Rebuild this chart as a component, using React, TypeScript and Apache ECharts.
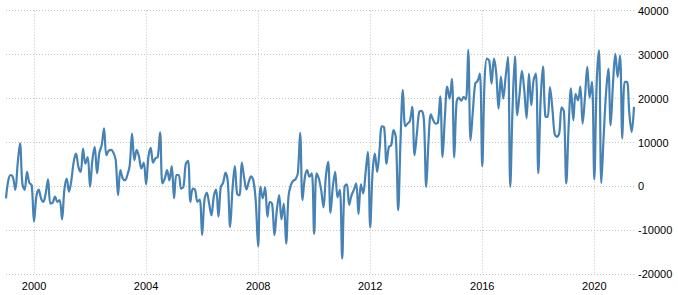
import React, { useEffect, useRef } from "react";
import * as echarts from "echarts";

const y1999 = [-2700, 1400, 2600, 2000, -800, 5200, 9800, 700, -800, 3300, 800, 300];
const y2000 = [-8000, -2300, -700, -2700, -3500, -1600, 1600, -3900, -3700, -2300, -3500, -3100];
const y2001 = [-7500, -800, 1800, -1200, 1400, 5600, 7500, 4500, 3300, 8600, 5200, 6700];
const y2002 = [-100, 6000, 9000, 3000, 7700, 9400, 13200, 7100, 8100, 8300, 7700, 6000];
const y2003 = [-2000, 3700, 1800, 1400, 2600, 4800, 12000, 6000, 8300, 6700, 4100, 5400];
const y2004 = [500, 6700, 8800, 5400, 6400, 6700, 12300, 700, 1800, 3700, 1400, 4600];
const y2005 = [-2700, 2600, 2600, -500, -100, 5100, 5800, -3500, -500, -800, -3500, -3000];
const y2006 = [-11100, -3100, -1400, -3900, -6600, -2300, -700, -6900, -100, 800, 3100, 1100];
const y2007 = [-9200, -800, 4600, -1700, -2000, 5400, 2000, -700, 1100, 2300, 1300, -3500];
const y2008 = [-13700, -100, -2700, -200, -6900, -3500, -4000, -11100, -5400, -2000, -7500, -3900];
const y2009 = [-13000, -2300, 300, 1300, 1600, 3000, 12200, -3100, 2000, 3700, 2200, 3000];
const y2010 = [-10800, 3000, 1800, -800, -4800, 2200, 5600, -6000, -100, 3300, -2500, -700];
const y2011 = [-16400, -100, 500, -4200, -2000, -800, 700, -6300, 500, -1600, 3000, 7900];
const y2012 = [-9300, 3000, 7500, 3300, 8300, 13700, 13400, 5200, 9000, 9400, 12800, 11100];
const y2013 = [-5400, 10500, 22000, 13700, 14300, 14900, 18100, 7100, 12000, 17000, 17200, 15100];
const y2014 = [-100, 10500, 16400, 15100, 14300, 14500, 20500, 6700, 15800, 22700, 20000, 24500];
const y2015 = [6600, 19200, 20200, 19500, 20400, 19800, 31100, 10500, 17300, 23400, 24000, 25700];
const y2016 = [4600, 24200, 29100, 28600, 23400, 29100, 25700, 17700, 25000, 20000, 24900, 29500];
const y2017 = [-100, 18100, 29600, 16200, 21100, 26300, 21900, 15500, 25700, 18500, 24200, 25700];
const y2018 = [3000, 19600, 27300, 16000, 15800, 22600, 18000, 12000, 11300, 12200, 18000, 17000];
const y2019 = [700, 13600, 22300, 15100, 21100, 19600, 22700, 14300, 20400, 27200, 20200, 23800];
const y2020 = [1600, 23400, 31000, 800, 11300, 21100, 26800, 13900, 23400, 30200, 24900, 29800];
const y2021 = [10900, 23800, 23800, 16600, 12400, 18100];

const values = [
  ...y1999, ...y2000, ...y2001, ...y2002, ...y2003, ...y2004, ...y2005, ...y2006,
  ...y2007, ...y2008, ...y2009, ...y2010, ...y2011, ...y2012, ...y2013, ...y2014,
  ...y2015, ...y2016, ...y2017, ...y2018, ...y2019, ...y2020, ...y2021,
];

const startYear = 1999;
const months: string[] = values.map((_, i) => {
  const y = startYear + Math.floor(i / 12);
  const m = (i % 12) + 1;
  return `${y}-${m < 10 ? "0" + m : m}`;
});

const yTicks = { min: -20000, max: 40000, interval: 10000 };

const isTickMonth = (_idx: number, val: string) => {
  const y = parseInt(val.slice(0, 4), 10);
  return val.slice(5) === "01" && y % 4 === 0;
};

export default function App() {
  const ref = useRef<HTMLDivElement>(null);
  useEffect(() => {
    if (!ref.current) return;
    const chart = echarts.init(ref.current, undefined, { renderer: "svg" });
    const grid = { color: "#c4c4c4", type: [1, 2] as number[], width: 1 };
    const font = "Liberation Sans, Arial, sans-serif";
    chart.setOption({
      animation: false,
      grid: { left: 6, right: 44, top: 10.7, bottom: 20.7, containLabel: false },
      xAxis: {
        type: "category",
        data: months,
        boundaryGap: false,
        axisLine: { show: false },
        axisTick: { show: false },
        axisLabel: {
          interval: isTickMonth,
          formatter: (v: string) => v.slice(0, 4),
          color: "#000",
          fontSize: 11,
          fontFamily: font,
          margin: 6,
        },
        splitLine: { show: true, interval: isTickMonth, lineStyle: grid },
      },
      yAxis: {
        type: "value",
        position: "right",
        min: yTicks.min,
        max: yTicks.max,
        interval: yTicks.interval,
        axisLine: { show: false },
        axisTick: { show: false },
        axisLabel: {
          formatter: (v: number) => String(v),
          color: "#000",
          fontSize: 11,
          fontFamily: font,
          margin: 4,
        },
        splitLine: { show: true, lineStyle: grid },
      },
      series: [
        {
          type: "line",
          data: values,
          smooth: 0.35,
          symbol: "none",
          lineStyle: { color: "#4682b4", width: 2.2 },
        },
      ],
    });
    return () => chart.dispose();
  }, []);
  return (
    <div
      ref={ref}
      style={{ position: "fixed", left: 0, top: 0, width: 678, height: 295, background: "#fff" }}
    />
  );
}
